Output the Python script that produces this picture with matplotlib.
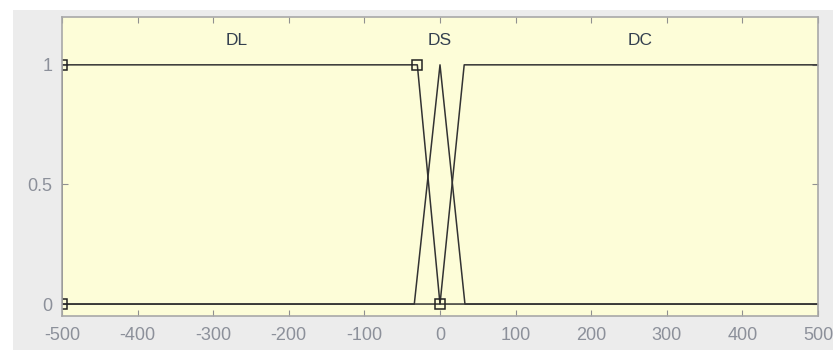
import matplotlib
matplotlib.use("Agg")
import matplotlib.pyplot as plt
from matplotlib.patches import Rectangle

# membership functions (x breakpoints, y values)
dl_x = [-500, -500, -30, 0, 500]
dl_y = [0, 1, 1, 0, 0]
ds_x = [-500, -34, 0, 33, 500]
ds_y = [0, 0, 1, 0, 0]
dc_x = [-500, 0, 32, 500]
dc_y = [0, 0, 1, 1]

# vertices of the selected function (DL)
sel_x = [-500, -500, -30, 0]
sel_y = [0, 1, 1, 0]

mf_names = ["DL", "DS", "DC"]
label_x = [-269, 0, 265]
label_y = 1.1

xticks = [-500, -400, -300, -200, -100, 0, 100, 200, 300, 400, 500]
yticks = [0, 0.5, 1]

plt.rcParams["font.family"] = ["Liberation Sans", "DejaVu Sans"]

fig = plt.figure(figsize=(8.33, 3.5), dpi=100)
fig.patch.set_facecolor("white")
fig.patches.append(Rectangle((13 / 833, 0), 1, 1 - 10 / 350, transform=fig.transFigure,
                             facecolor="#ececec", edgecolor="none", zorder=-1))

ax = fig.add_axes([62 / 833, 1 - 316 / 350, (818 - 62) / 833, (316 - 17) / 350])
ax.set_facecolor("#fdfdd8")

line_col = "#333333"
ax.plot(dl_x, dl_y, color=line_col, lw=1.1)
ax.plot(ds_x, ds_y, color=line_col, lw=1.1)
ax.plot(dc_x, dc_y, color=line_col, lw=1.1)
ax.plot(sel_x, sel_y, ls="none", marker="s", ms=7, mfc="none", mec="#222222", mew=1.1)

for name, lx in zip(mf_names, label_x):
    ax.text(lx, label_y, name, ha="center", va="center", fontsize=12.5, color="#34404f")

ax.set_xlim(-500, 500)
ax.set_ylim(-0.05, 1.2)
ax.set_xticks(xticks)
ax.set_yticks(yticks)
ax.set_xticklabels([str(t) for t in xticks])
ax.set_yticklabels(["0", "0.5", "1"])
ax.tick_params(direction="in", length=4, color="#909090", labelcolor="#8c909a",
               labelsize=13, top=True, right=True)
ax.tick_params(axis="x", pad=8)
ax.tick_params(axis="y", pad=7)
for s in ax.spines.values():
    s.set_color("#a8a8a8")
    s.set_linewidth(1.2)

fig.savefig("out.png", dpi=100, facecolor=fig.get_facecolor())
